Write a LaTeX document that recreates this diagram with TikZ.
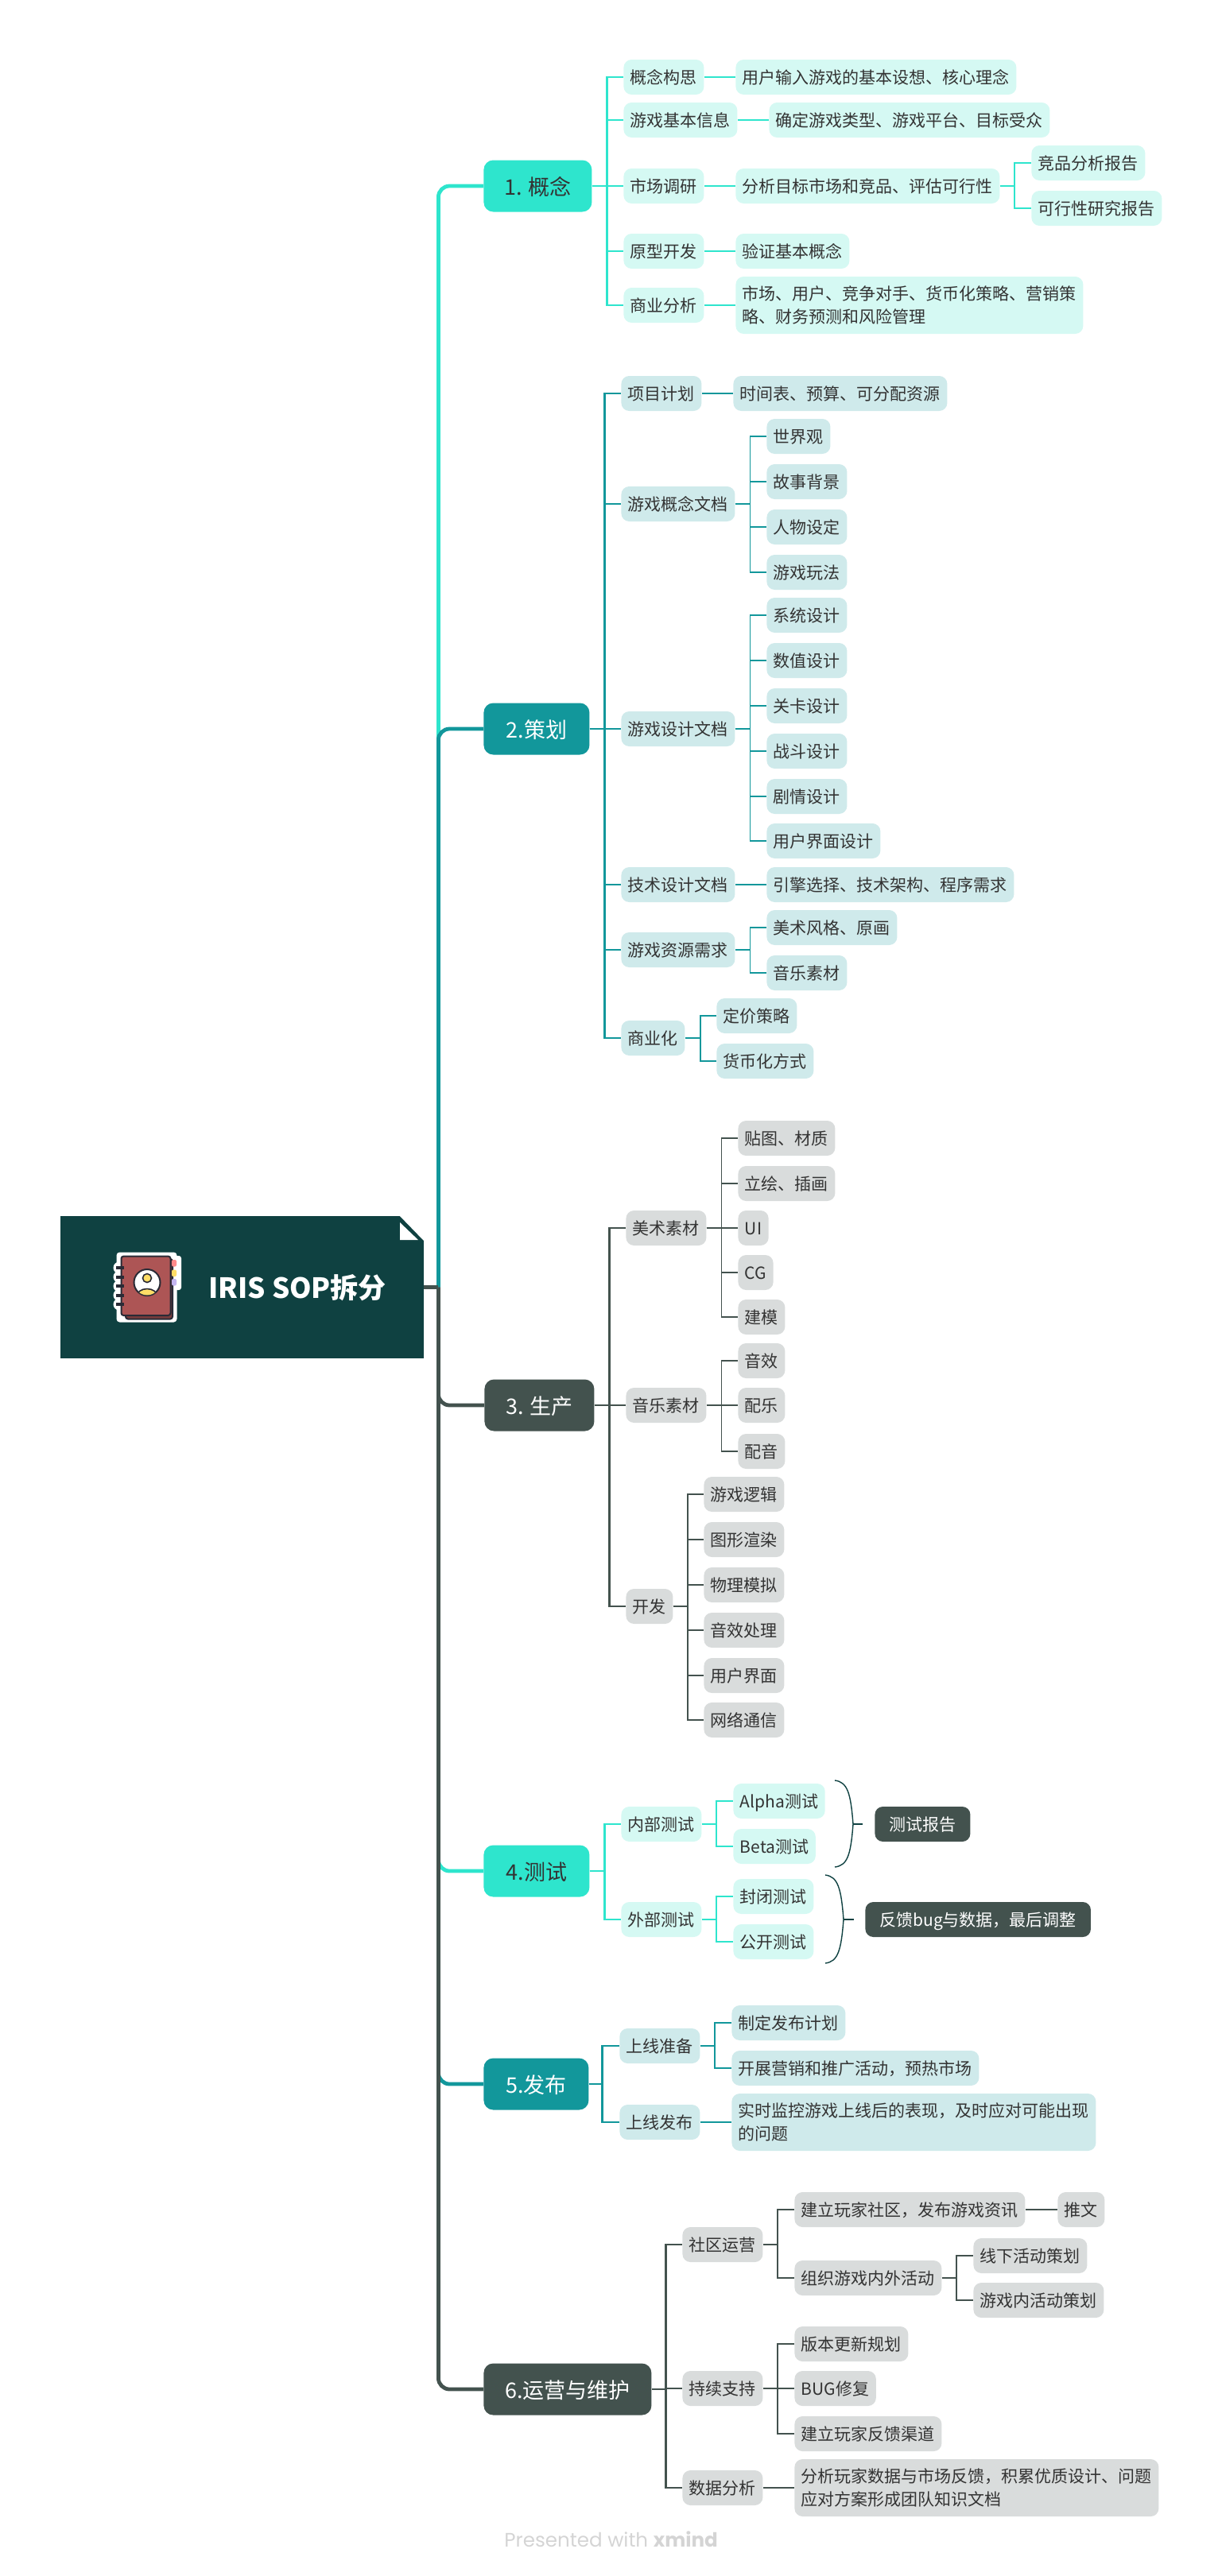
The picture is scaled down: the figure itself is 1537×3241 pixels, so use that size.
\documentclass[tikz,border=0pt]{standalone}
\usepackage{fontspec}
\setmainfont{Noto Sans CJK SC}
\newfontfamily\markfont{Poppins}
\definecolor{rootgreen}{HTML}{0F4141}
\definecolor{mint}{HTML}{2EE5CD}
\definecolor{lagoon}{HTML}{12979B}
\definecolor{slate}{HTML}{43524E}
\definecolor{mintpale}{HTML}{D5F9F3}
\definecolor{lagoonpale}{HTML}{CFEAEB}
\definecolor{slatepale}{HTML}{D9DCDC}
\definecolor{inkdark}{HTML}{333333}
\definecolor{bookred}{HTML}{AD5555}
\definecolor{bookline}{HTML}{2A2B36}
\definecolor{tabred}{HTML}{FF8A8A}
\definecolor{tabyellow}{HTML}{FFDD66}
\definecolor{tabviolet}{HTML}{C4B5F0}
\tikzset{
  box/.style={rounded corners=5pt,anchor=west,inner xsep=4.25pt,inner ysep=0pt,minimum height=22pt,
    text height=9.6pt,text depth=0.8pt,font=\fontsize{10.5}{14.5}\selectfont,text=inkdark},
  boxtwo/.style={box,minimum height=36pt,align=left,text height=,text depth=,
    execute at begin node={\rule{0pt}{10.6pt}}},
  leafa/.style={box,fill=mintpale},
  leafb/.style={box,fill=lagoonpale},
  leafc/.style={box,fill=slatepale},
  twoa/.style={boxtwo,fill=mintpale},
  twob/.style={boxtwo,fill=lagoonpale},
  twoc/.style={boxtwo,fill=slatepale},
  sumbox/.style={box,fill=slate,text=white,inner xsep=9pt},
  sec/.style={rounded corners=6pt,anchor=west,inner sep=0pt,minimum height=32.5pt,minimum width=#1,
    text height=12pt,text depth=1pt,font=\fontsize{13.5}{16}\selectfont},
  trunk/.style={line width=2.4pt},
  wire/.style={line width=1.4pt},
  thin wire/.style={line width=0.75pt},
  brace line/.style={line width=0.7pt,draw=rootgreen},
}
\begin{document}
\begin{tikzpicture}[x=0.5pt,y=-0.5pt]
  \useasboundingbox (0,0) rectangle (1537,3241);

  % Root with folded corner
  \node[fill=rootgreen,inner sep=0pt,minimum width=228.5pt,minimum height=89.5pt] (root) at (304.5,1619.5) {};
  \fill[white] (502,1529) -- (534,1529) -- (534,1562) -- cycle;
  \fill[white] (503,1538) -- (503,1560) -- (526,1560) -- cycle;
  \node[anchor=west,inner sep=0pt,text=white,font=\fontsize{17.5}{20}\selectfont\bfseries] (title) at (262,1620) {IRIS SOP拆分};

  % Notebook icon
  \fill[white,rounded corners=2pt] (146.5,1575.5) rectangle (222.5,1663.5);
  \fill[white,rounded corners=1.5pt] (205,1580) rectangle (228,1623);
  \foreach \ry in {1595,1606.5,1618,1629.5,1641}
    \fill[white] (150,\ry) circle (7.5);
  \draw[bookline,fill=bookred!70!black,line width=1pt,rounded corners=1.5pt] (158,1584) rectangle (217,1659.5);
  \draw[bookline,fill=bookred,line width=1pt,rounded corners=1.5pt] (152.5,1580.5) rectangle (214.5,1655);
  \fill[bookline] (146,1593) rectangle (156,1597);
  \fill[bookline] (146,1604.5) rectangle (156,1608.5);
  \fill[bookline] (146,1616) rectangle (156,1620);
  \fill[bookline] (146,1627.5) rectangle (156,1631.5);
  \fill[bookline] (146,1639) rectangle (156,1643);
  \fill[tabred,rounded corners=1pt] (216,1585) rectangle (222,1593.5);
  \fill[tabyellow,rounded corners=1pt] (216,1597.5) rectangle (222,1606);
  \fill[tabviolet,rounded corners=1pt] (216,1609) rectangle (222,1617.5);
  \draw[bookline,fill=white,line width=1pt] (185,1613.5) circle (16.5);
  \begin{scope}
    \clip (185,1613.5) circle (16);
    \draw[bookline,fill=tabyellow,line width=0.8pt] (185,1631) ellipse (13 and 9.5);
  \end{scope}
  \draw[bookline,fill=tabyellow,line width=0.8pt] (185,1608) circle (5.5);

  % 1. concept
  \node[sec=68pt,fill=mint,text=inkdark] (c1) at (608,234) {1. 概念};
  \node[leafa] (a1) at (784,97) {概念构思};
  \node[leafa] (a2) at (784,151) {游戏基本信息};
  \node[leafa] (a3) at (784,234) {市场调研};
  \node[leafa] (a4) at (784,316) {原型开发};
  \node[leafa] (a5) at (784,384) {商业分析};
  \node[leafa] (a1x) at (925,97) {用户输入游戏的基本设想、核心理念};
  \node[leafa] (a2x) at (967,151) {确定游戏类型、游戏平台、目标受众};
  \node[leafa] (a3x) at (925,234) {分析目标市场和竞品、评估可行性};
  \node[leafa] (a3y) at (1297,205) {竞品分析报告};
  \node[leafa] (a3z) at (1297,262) {可行性研究报告};
  \node[leafa] (a4x) at (925,316) {验证基本概念};
  \node[twoa] (a5x) at (925,384) {市场、用户、竞争对手、货币化策略、营销策\\略、财务预测和风险管理};

  % 2. planning
  \node[sec=66.5pt,fill=lagoon,text=white] (c2) at (608,917) {2.策划};
  \node[leafb] (b1) at (781,495) {项目计划};
  \node[leafb] (b1x) at (922,495) {时间表、预算、可分配资源};
  \node[leafb] (b2) at (781,634) {游戏概念文档};
  \node[leafb] (b2p) at (964,549) {世界观};
  \node[leafb] (b2q) at (964,606) {故事背景};
  \node[leafb] (b2r) at (964,663) {人物设定};
  \node[leafb] (b2s) at (964,720) {游戏玩法};
  \node[leafb] (b3) at (781,917) {游戏设计文档};
  \node[leafb] (b3p) at (964,774) {系统设计};
  \node[leafb] (b3q) at (964,831) {数值设计};
  \node[leafb] (b3r) at (964,888) {关卡设计};
  \node[leafb] (b3s) at (964,945) {战斗设计};
  \node[leafb] (b3t) at (964,1002) {剧情设计};
  \node[leafb] (b3u) at (964,1058) {用户界面设计};
  \node[leafb] (b4) at (781,1113) {技术设计文档};
  \node[leafb] (b4x) at (964,1113) {引擎选择、技术架构、程序需求};
  \node[leafb] (b5) at (781,1195) {游戏资源需求};
  \node[leafb] (b5p) at (964,1167) {美术风格、原画};
  \node[leafb] (b5q) at (964,1224) {音乐素材};
  \node[leafb] (b6) at (781,1306) {商业化};
  \node[leafb] (b6p) at (901,1278) {定价策略};
  \node[leafb] (b6q) at (901,1335) {货币化方式};

  % 3. production
  \node[sec=69pt,fill=slate,text=white] (c3) at (609,1768) {3. 生产};
  \node[leafc] (d1) at (787,1545) {美术素材};
  \node[leafc] (d1p) at (928,1432) {贴图、材质};
  \node[leafc] (d1q) at (928,1489) {立绘、插画};
  \node[leafc] (d1r) at (928,1545) {UI};
  \node[leafc] (d1s) at (928,1601) {CG};
  \node[leafc] (d1t) at (928,1657) {建模};
  \node[leafc] (d2) at (787,1768) {音乐素材};
  \node[leafc] (d2p) at (928,1712) {音效};
  \node[leafc] (d2q) at (928,1768) {配乐};
  \node[leafc] (d2r) at (928,1826) {配音};
  \node[leafc] (d3) at (787,2021) {开发};
  \node[leafc] (d3p) at (885,1880) {游戏逻辑};
  \node[leafc] (d3q) at (885,1937) {图形渲染};
  \node[leafc] (d3r) at (885,1994) {物理模拟};
  \node[leafc] (d3s) at (885,2051) {音效处理};
  \node[leafc] (d3t) at (885,2108) {用户界面};
  \node[leafc] (d3u) at (885,2164) {网络通信};

  % 4. testing
  \node[sec=66.5pt,fill=mint,text=inkdark] (c4) at (608,2354) {4.测试};
  \node[leafa] (e1) at (781,2295) {内部测试};
  \node[leafa] (e1p) at (922,2266) {Alpha测试};
  \node[leafa] (e1q) at (922,2323) {Beta测试};
  \node[sumbox] (e1s) at (1100,2295) {测试报告};
  \node[leafa] (e2) at (781,2415) {外部测试};
  \node[leafa] (e2p) at (922,2386) {封闭测试};
  \node[leafa] (e2q) at (922,2443) {公开测试};
  \node[sumbox] (e2s) at (1088,2415) {反馈bug与数据，最后调整};

  % 5. release
  \node[sec=66pt,fill=lagoon,text=white] (c5) at (608,2622) {5.发布};
  \node[leafb] (f1) at (779,2574) {上线准备};
  \node[leafb] (f1p) at (920,2545) {制定发布计划};
  \node[leafb] (f1q) at (920,2602) {开展营销和推广活动，预热市场};
  \node[leafb] (f2) at (779,2670) {上线发布};
  \node[twob] (f2x) at (920,2670) {实时监控游戏上线后的表现，及时应对可能出现\\的问题};

  % 6. operation
  \node[sec=105.5pt,fill=slate,text=white] (c6) at (608,3006) {6.运营与维护};
  \node[leafc] (g1) at (858,2824) {社区运营};
  \node[leafc] (g1p) at (999,2780) {建立玩家社区，发布游戏资讯};
  \node[leafc] (g1x) at (1330,2780) {推文};
  \node[leafc] (g1q) at (999,2866) {组织游戏内外活动};
  \node[leafc] (g1r) at (1224,2838) {线下活动策划};
  \node[leafc] (g1s) at (1224,2894) {游戏内活动策划};
  \node[leafc] (g2) at (858,3005) {持续支持};
  \node[leafc] (g2p) at (999,2949) {版本更新规划};
  \node[leafc] (g2q) at (999,3005) {BUG修复};
  \node[leafc] (g2r) at (999,3062) {建立玩家反馈渠道};
  \node[leafc] (g3) at (858,3130) {数据分析};
  \node[twoc] (g3x) at (999,3130) {分析玩家数据与市场反馈，积累优质设计、问题\\应对方案形成团队知识文档};

  % Main trunk, later colours lie over earlier ones
  \coordinate (hub) at ([xshift=9pt]root.east);
  \draw[trunk,mint,rounded corners=7pt] (hub) |- (c4.west);
  \draw[trunk,lagoon,rounded corners=7pt] (hub) |- (c5.west);
  \draw[trunk,mint,rounded corners=7pt] (hub) |- (c1.west);
  \draw[trunk,lagoon,rounded corners=7pt] (hub) |- (c2.west);
  \draw[trunk,slate,rounded corners=7pt] (hub) |- (c6.west);
  \draw[trunk,slate,rounded corners=7pt] (hub) |- (c3.west);
  \draw[trunk,slate] (root.east) -- (hub);

  % Wires of 1
  \foreach \kid in {a1,a2,a3,a4,a5}
    \draw[wire,mint] (c1.east) -- ++(19,0) |- (\kid.west);
  \draw[thin wire,mint] (a1) -- (a1x);
  \draw[thin wire,mint] (a2) -- (a2x);
  \draw[thin wire,mint] (a3) -- (a3x);
  \draw[thin wire,mint] (a4) -- (a4x);
  \draw[thin wire,mint] (a5) -- (a5x);
  \draw[thin wire,mint] (a3x.east) -- ++(18,0) |- (a3y.west);
  \draw[thin wire,mint] (a3x.east) -- ++(18,0) |- (a3z.west);

  % Wires of 2
  \foreach \kid in {b1,b2,b3,b4,b5,b6}
    \draw[wire,lagoon] (c2.east) -- ++(19,0) |- (\kid.west);
  \draw[thin wire,lagoon] (b1) -- (b1x);
  \draw[thin wire,lagoon] (b4) -- (b4x);
  \foreach \kid in {b2p,b2q,b2r,b2s}
    \draw[thin wire,lagoon] (b2.east) -- ++(18.5,0) |- (\kid.west);
  \foreach \kid in {b3p,b3q,b3r,b3s,b3t,b3u}
    \draw[thin wire,lagoon] (b3.east) -- ++(18.5,0) |- (\kid.west);
  \foreach \kid in {b5p,b5q}
    \draw[thin wire,lagoon] (b5.east) -- ++(18.5,0) |- (\kid.west);
  \foreach \kid in {b6p,b6q}
    \draw[thin wire,lagoon] (b6.east) -- ++(19,0) |- (\kid.west);

  % Wires of 3
  \foreach \kid in {d1,d2,d3}
    \draw[wire,slate] (c3.east) -- ++(19,0) |- (\kid.west);
  \foreach \kid in {d1p,d1q,d1r,d1s,d1t}
    \draw[thin wire,slate] (d1.east) -- ++(18.5,0) |- (\kid.west);
  \foreach \kid in {d2p,d2q,d2r}
    \draw[thin wire,slate] (d2.east) -- ++(18.5,0) |- (\kid.west);
  \foreach \kid in {d3p,d3q,d3r,d3s,d3t,d3u}
    \draw[thin wire,slate] (d3.east) -- ++(18,0) |- (\kid.west);

  % Wires of 4, with the two braces
  \foreach \kid in {e1,e2}
    \draw[wire,mint] (c4.east) -- ++(19,0) |- (\kid.west);
  \foreach \kid in {e1p,e1q}
    \draw[thin wire,mint] (e1.east) -- ++(18,0) |- (\kid.west);
  \foreach \kid in {e2p,e2q}
    \draw[thin wire,mint] (e2.east) -- ++(18,0) |- (\kid.west);
  \coordinate (brace1) at (1073,2295);
  \coordinate (brace2) at (1061,2415);
  \draw[brace line] (1050,2240) .. controls (1066,2242) and (1070,2256) .. (brace1)
    .. controls (1070,2334) and (1066,2347) .. (1050,2349);
  \draw[brace line] (brace1) -- ([xshift=-7.5pt]e1s.west);
  \draw[brace line] (1038,2359) .. controls (1054,2361) and (1058,2376) .. (brace2)
    .. controls (1058,2454) and (1054,2468) .. (1038,2470);
  \draw[brace line] (brace2) -- ([xshift=-7pt]e2s.west);

  % Wires of 5
  \foreach \kid in {f1,f2}
    \draw[wire,lagoon] (c5.east) -- ++(17,0) |- (\kid.west);
  \foreach \kid in {f1p,f1q}
    \draw[thin wire,lagoon] (f1.east) -- ++(18,0) |- (\kid.west);
  \draw[thin wire,lagoon] (f2) -- (f2x);

  % Wires of 6
  \foreach \kid in {g1,g2,g3}
    \draw[wire,slate] (c6.east) -- ++(18,0) |- (\kid.west);
  \foreach \kid in {g1p,g1q}
    \draw[thin wire,slate] (g1.east) -- ++(18,0) |- (\kid.west);
  \draw[thin wire,slate] (g1p) -- (g1x);
  \foreach \kid in {g1r,g1s}
    \draw[thin wire,slate] (g1q.east) -- ++(18,0) |- (\kid.west);
  \foreach \kid in {g2p,g2q,g2r}
    \draw[thin wire,slate] (g2.east) -- ++(18,0) |- (\kid.west);
  \draw[thin wire,slate] (g3) -- (g3x);

  % Footer
  \node[anchor=west,inner sep=0pt,text=black!17,font=\markfont\fontsize{12.3}{15}\selectfont] (mark) at (634,3195) {Presented with \textbf{xmind}};

\end{tikzpicture}
\end{document}
